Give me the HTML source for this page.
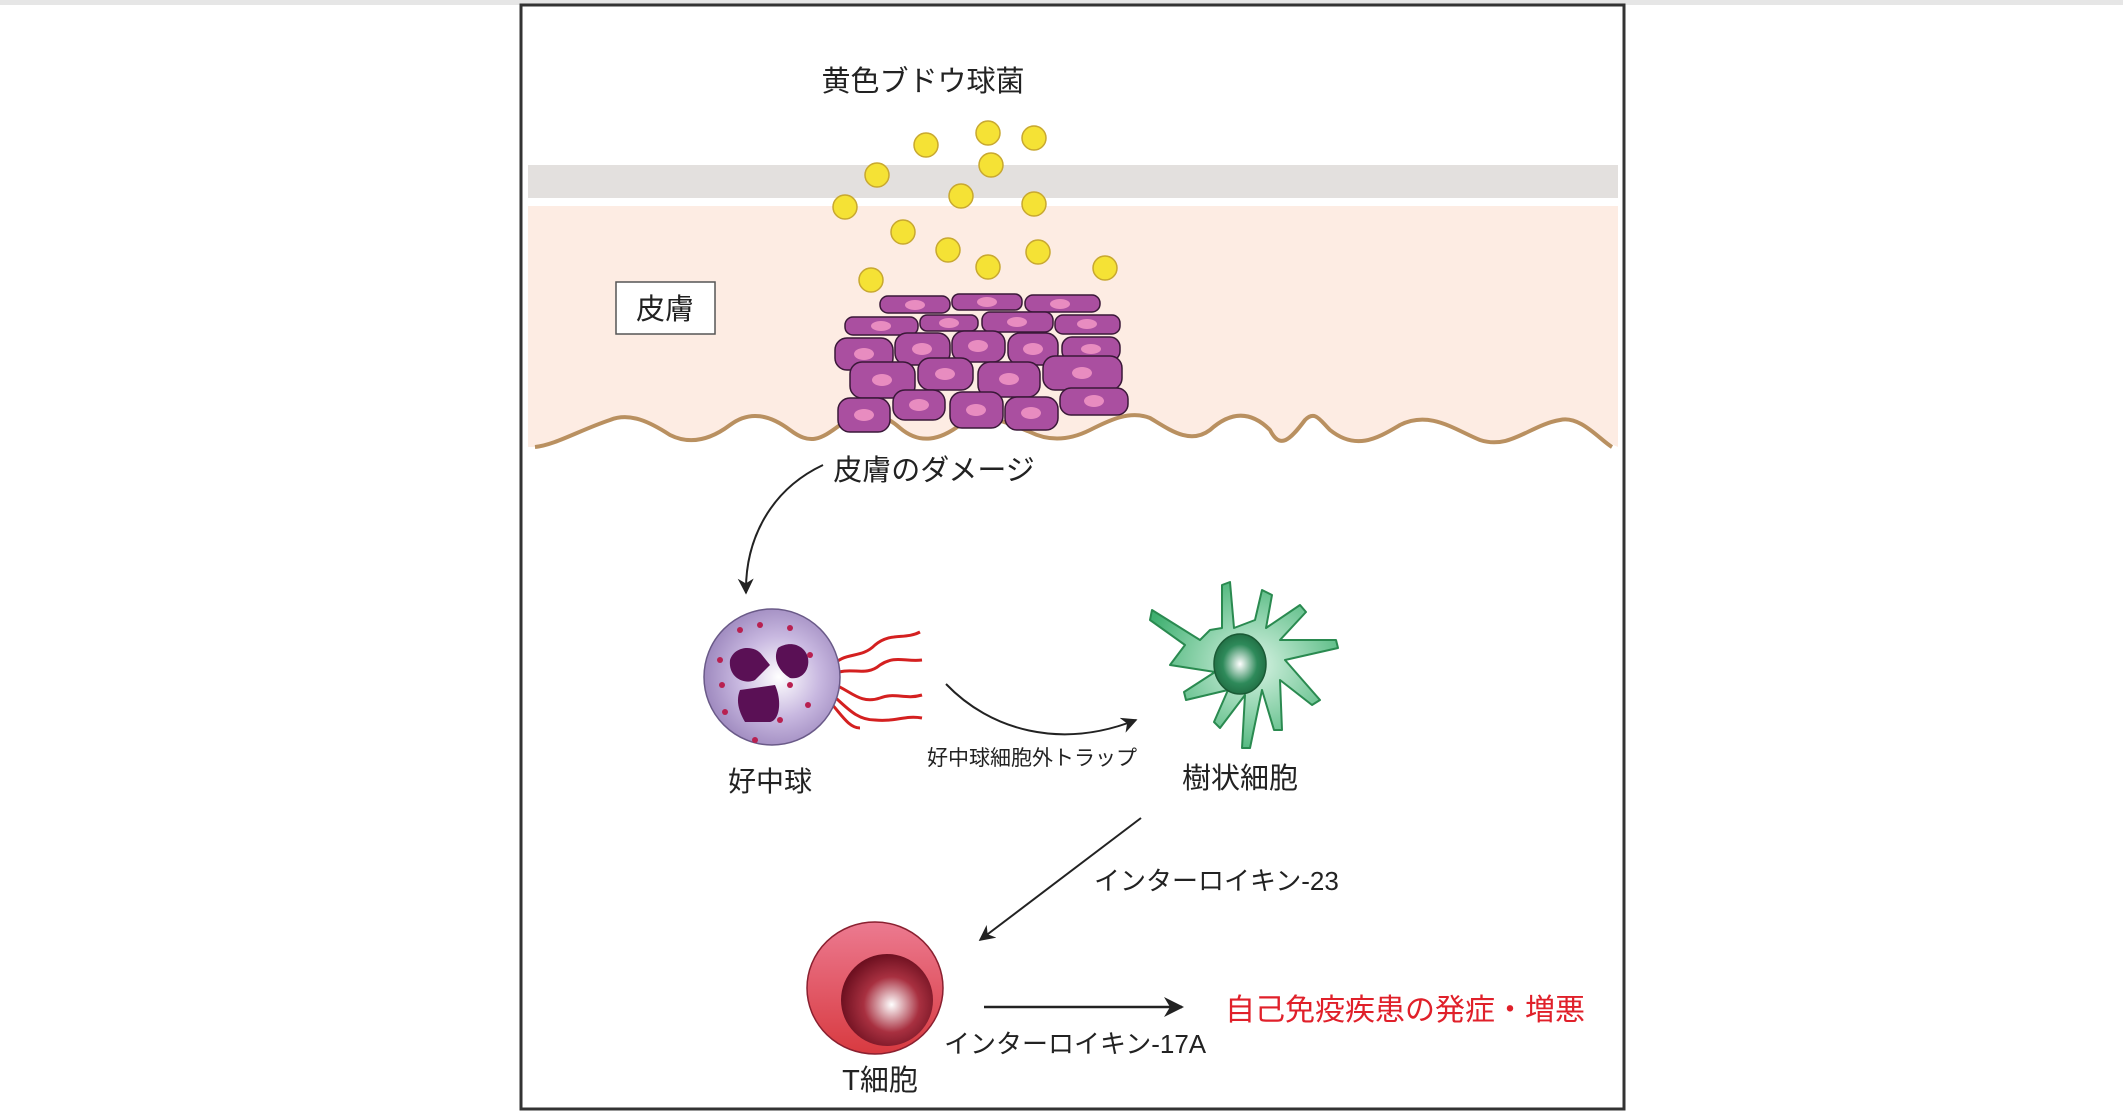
<!DOCTYPE html>
<html><head><meta charset="utf-8"><style>
html,body{margin:0;padding:0;background:#fff;width:2123px;height:1112px;overflow:hidden}
svg{display:block}
text{font-family:"Liberation Sans","Noto Sans CJK JP",sans-serif;fill:#222}
</style></head><body>
<svg width="2123" height="1112" viewBox="0 0 2123 1112" xmlns="http://www.w3.org/2000/svg">
<defs>
<radialGradient id="neu" cx="0.55" cy="0.5" r="0.6"><stop offset="0" stop-color="#fff"/><stop offset="0.5" stop-color="#c8b8e0"/><stop offset="1" stop-color="#9680b8"/></radialGradient>
<radialGradient id="dc" cx="0.55" cy="0.5" r="0.6"><stop offset="0" stop-color="#d8f3e4"/><stop offset="1" stop-color="#3fb070"/></radialGradient>
<radialGradient id="dcn" cx="0.5" cy="0.5" r="0.55"><stop offset="0" stop-color="#fff"/><stop offset="0.6" stop-color="#2e8a5a"/><stop offset="1" stop-color="#1e6a40"/></radialGradient>
<linearGradient id="tc" x1="0" y1="0" x2="0" y2="1"><stop offset="0" stop-color="#ec7a90"/><stop offset="1" stop-color="#d83a40"/></linearGradient>
<radialGradient id="tcn" cx="0.55" cy="0.55" r="0.55"><stop offset="0" stop-color="#fff"/><stop offset="0.55" stop-color="#a83040"/><stop offset="1" stop-color="#6e1020"/></radialGradient>
<marker id="ah" viewBox="0 0 10 10" refX="9" refY="5" markerWidth="8" markerHeight="8" orient="auto"><path d="M0,0 L10,5 L0,10 L3,5z" fill="#222"/></marker>
</defs>
<rect x="0" y="0" width="2123" height="5" fill="#e6e6e6"/>
<rect x="521" y="5" width="1103" height="1104" fill="#fff" stroke="#333" stroke-width="3"/>
<rect x="528" y="165" width="1090" height="33" fill="#e3e0de"/>
<path d="M528,206 H1618 V447 C1600,440 1580,415 1560,420 C1530,425 1510,450 1480,440 C1455,430 1430,410 1400,425 C1375,440 1355,450 1330,430 C1320,420 1315,410 1305,420 C1290,440 1280,450 1270,430 C1250,410 1230,412 1210,430 C1190,445 1170,430 1150,418 C1130,410 1110,420 1090,430 C1070,440 1050,442 1030,432 C1000,420 980,410 960,425 C940,440 920,445 900,428 C880,410 860,410 840,425 C820,440 810,445 790,430 C770,415 750,410 730,425 C710,440 690,445 670,435 C650,422 630,412 610,420 C580,430 555,445 535,447 L528,447 Z" fill="#fdece3"/>
<path d="M535,447 C555,445 580,430 610,420 C630,412 650,422 670,435 C690,445 710,440 730,425 C750,410 770,415 790,430 C810,445 820,440 840,425 C860,410 880,410 900,428 C920,445 940,440 960,425 C980,410 1000,420 1030,432 C1050,442 1070,440 1090,430 C1110,420 1130,410 1150,418 C1170,430 1190,445 1210,430 C1230,412 1250,410 1270,430 C1280,450 1290,440 1305,420 C1315,410 1320,420 1330,430 C1355,450 1375,440 1400,425 C1430,410 1455,430 1480,440 C1510,450 1530,425 1560,420 C1580,415 1600,440 1612,447" fill="none" stroke="#b99060" stroke-width="4"/>
<text x="923" y="91" font-size="29" text-anchor="middle">黄色ブドウ球菌</text>
<rect x="616" y="282" width="99" height="52" fill="#fff" stroke="#555" stroke-width="1.5"/>
<text x="665" y="319" font-size="29" text-anchor="middle">皮膚</text>
<g fill="#f5e235" stroke="#c8a830" stroke-width="1.5">
<circle cx="926" cy="145" r="12"/><circle cx="988" cy="133" r="12"/><circle cx="1034" cy="138" r="12"/><circle cx="877" cy="175" r="12"/><circle cx="991" cy="165" r="12"/><circle cx="961" cy="196" r="12"/><circle cx="845" cy="207" r="12"/><circle cx="1034" cy="204" r="12"/><circle cx="903" cy="232" r="12"/><circle cx="948" cy="250" r="12"/><circle cx="1038" cy="252" r="12"/><circle cx="988" cy="267" r="12"/><circle cx="1105" cy="268" r="12"/><circle cx="871" cy="280" r="12"/>
</g>
<g fill="#aa4fa0" stroke="#3a1838" stroke-width="1.5">
<rect x="880" y="296" width="70" height="17" rx="8"/><rect x="952" y="294" width="70" height="16" rx="7"/><rect x="1025" y="295" width="75" height="17" rx="8"/>
<rect x="845" y="317" width="73" height="18" rx="8"/><rect x="920" y="315" width="58" height="16" rx="7"/><rect x="982" y="312" width="71" height="20" rx="8"/><rect x="1055" y="315" width="65" height="19" rx="8"/>
<rect x="835" y="338" width="58" height="32" rx="12"/><rect x="895" y="333" width="55" height="32" rx="12"/><rect x="952" y="331" width="53" height="31" rx="12"/><rect x="1008" y="333" width="50" height="32" rx="12"/><rect x="1062" y="337" width="58" height="24" rx="10"/>
<rect x="850" y="362" width="65" height="36" rx="12"/><rect x="918" y="358" width="55" height="32" rx="12"/><rect x="978" y="362" width="62" height="35" rx="12"/><rect x="1043" y="356" width="79" height="34" rx="12"/>
<rect x="838" y="398" width="52" height="34" rx="12"/><rect x="893" y="390" width="52" height="30" rx="12"/><rect x="950" y="392" width="53" height="36" rx="12"/><rect x="1005" y="397" width="53" height="33" rx="12"/><rect x="1060" y="388" width="68" height="27" rx="11"/>
</g>
<g fill="#e88cc0">
<ellipse cx="915" cy="305" rx="10" ry="5"/><ellipse cx="987" cy="302" rx="10" ry="5"/><ellipse cx="1060" cy="304" rx="10" ry="5"/>
<ellipse cx="881" cy="326" rx="10" ry="5"/><ellipse cx="949" cy="323" rx="10" ry="5"/><ellipse cx="1017" cy="322" rx="10" ry="5"/><ellipse cx="1087" cy="324" rx="10" ry="5"/>
<ellipse cx="864" cy="354" rx="10" ry="6"/><ellipse cx="922" cy="349" rx="10" ry="6"/><ellipse cx="978" cy="346" rx="10" ry="6"/><ellipse cx="1033" cy="349" rx="10" ry="6"/><ellipse cx="1091" cy="349" rx="10" ry="5"/>
<ellipse cx="882" cy="380" rx="10" ry="6"/><ellipse cx="945" cy="374" rx="10" ry="6"/><ellipse cx="1009" cy="379" rx="10" ry="6"/><ellipse cx="1082" cy="373" rx="10" ry="6"/>
<ellipse cx="864" cy="415" rx="10" ry="6"/><ellipse cx="919" cy="405" rx="10" ry="6"/><ellipse cx="976" cy="410" rx="10" ry="6"/><ellipse cx="1031" cy="413" rx="10" ry="6"/><ellipse cx="1094" cy="401" rx="10" ry="6"/>
</g>
<text x="934" y="480" font-size="29" text-anchor="middle">皮膚のダメージ</text>
<path d="M823,465 C770,490 745,540 746,593" fill="none" stroke="#222" stroke-width="2" marker-end="url(#ah)"/>
<g fill="none" stroke="#d42020" stroke-width="3">
<path d="M830,668 C845,650 860,660 875,645 C890,632 905,640 920,632"/>
<path d="M832,675 C850,665 865,678 880,665 C895,655 905,662 922,660"/>
<path d="M833,684 C850,690 860,705 880,698 C895,692 905,700 922,695"/>
<path d="M830,693 C845,705 855,720 875,720 C895,722 905,715 922,718"/>
<path d="M828,700 C840,712 848,728 860,728"/>
</g>
<ellipse cx="772" cy="677" rx="68" ry="68" fill="url(#neu)" stroke="#6a5a88" stroke-width="1.5"/>
<g fill="#5a1055">
<path d="M730,660 C735,645 755,645 762,655 L770,665 L755,680 C745,685 728,678 730,660Z"/>
<path d="M778,648 C790,640 805,645 808,658 C810,670 802,680 790,678 C780,672 772,660 778,648Z"/>
<path d="M740,690 L775,685 C782,700 780,720 770,722 L745,722 C738,710 736,700 740,690Z"/>
</g>
<g fill="#b82050"><circle cx="740" cy="630" r="3"/><circle cx="760" cy="625" r="3"/><circle cx="790" cy="628" r="3"/><circle cx="720" cy="660" r="3"/><circle cx="722" cy="685" r="3"/><circle cx="810" cy="655" r="3"/><circle cx="790" cy="685" r="3"/><circle cx="808" cy="705" r="3"/><circle cx="780" cy="720" r="3"/><circle cx="755" cy="740" r="3"/><circle cx="725" cy="712" r="3"/></g>
<text x="770" y="791" font-size="28" text-anchor="middle">好中球</text>
<path d="M946,684 C990,730 1060,750 1136,720" fill="none" stroke="#222" stroke-width="2" marker-end="url(#ah)"/>
<text x="1032" y="765" font-size="21" text-anchor="middle">好中球細胞外トラップ</text>
<path d="M1222,628 L1222,585 L1230,582 L1234,628 L1255,620 L1262,590 L1272,595 L1266,628 L1300,605 L1306,612 L1280,640 L1336,640 L1338,648 L1285,660 L1320,700 L1312,705 L1280,680 L1282,730 L1274,730 L1262,690 L1250,748 L1242,748 L1245,695 L1220,728 L1214,722 L1228,690 L1186,700 L1184,692 L1215,672 L1170,665 L1185,645 L1150,620 L1152,610 L1200,640 L1210,630Z" fill="url(#dc)" stroke="#2a8a50" stroke-width="2" stroke-linejoin="round"/>
<ellipse cx="1240" cy="664" rx="26" ry="30" fill="url(#dcn)" stroke="#1a5a35" stroke-width="1.5"/>
<text x="1240" y="788" font-size="29" text-anchor="middle">樹状細胞</text>
<line x1="1141" y1="818" x2="980" y2="940" stroke="#222" stroke-width="2" marker-end="url(#ah)"/>
<text x="1094" y="890" font-size="26">インターロイキン-23</text>
<ellipse cx="875" cy="988" rx="68" ry="66" fill="url(#tc)" stroke="#8a2030" stroke-width="1.5"/>
<ellipse cx="887" cy="1000" rx="46" ry="46" fill="url(#tcn)"/>
<text x="880" y="1090" font-size="29" text-anchor="middle">T細胞</text>
<line x1="984" y1="1007" x2="1182" y2="1007" stroke="#222" stroke-width="2.5" marker-end="url(#ah)"/>
<text x="944" y="1053" font-size="26">インターロイキン-17A</text>
<text x="1225" y="1020" font-size="30" style="fill:#e0202a">自己免疫疾患の発症・増悪</text>
</svg>
</body></html>
